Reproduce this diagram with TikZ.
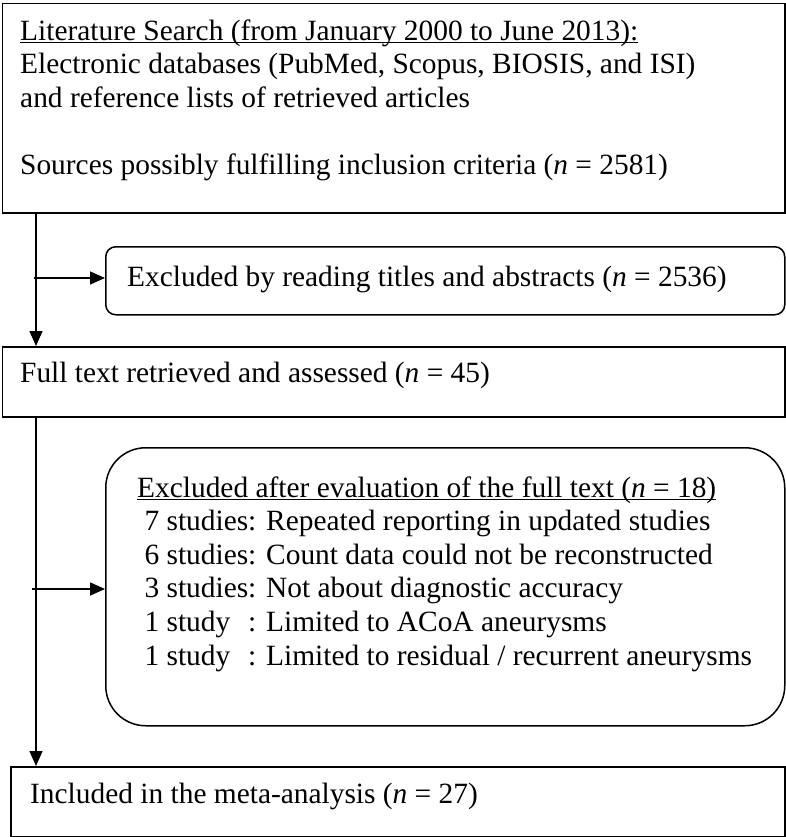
\documentclass[tikz,border=0pt]{standalone}
\usepackage{fontspec}
\setmainfont{Liberation Serif}
\usetikzlibrary{arrows.meta}
\newcommand\myul[1]{\setbox0\hbox{#1}\rlap{\rule[-3pt]{\wd0}{1.3pt}}\box0}
\newlength\stw
\newcommand\stlabel[1]{\makebox[\stw][l]{#1}}
\tikzset{
  box/.style={draw, line width=1.5pt, inner sep=0pt, anchor=north west},
  rbox/.style={box, rounded corners=#1},
  txt/.style={inner sep=0pt, anchor=base west, font=\fontsize{29.4}{33.5}\selectfont},
  arr/.style={line width=1.6pt, -{Triangle[length=15pt,width=13pt]}}
}
\begin{document}
\begin{tikzpicture}[x=1pt,y=-1pt]
\useasboundingbox (0,0) rectangle (786,837);
% boxes
\node[box, minimum width=782.5pt, minimum height=209pt] (search) at (1.5,3) {};
\node[rbox=10pt, minimum width=679pt, minimum height=68pt] (excl1) at (105,246) {};
\node[box, minimum width=782.5pt, minimum height=70pt] (full) at (1.5,346) {};
\node[rbox=40pt, minimum width=679pt, minimum height=278pt] (excl2) at (105,447) {};
\node[box, minimum width=774pt, minimum height=70pt] (incl) at (10,766) {};
% texts
\node[txt] (searchtxt) at (20,40.5) {\vtop{\baselineskip=33.5pt
  \hbox{\myul{Literature Search (from January 2000 to June 2013):}}
  \hbox{Electronic databases (PubMed, Scopus, BIOSIS, and ISI)}
  \hbox{and reference lists of retrieved articles}
  \hbox{}
  \hbox{Sources possibly fulfilling inclusion criteria (\textit{n} = 2581)}}};
\node[txt] (excl1txt) at (127,286) {Excluded by reading titles and abstracts (\textit{n} = 2536)};
\node[txt] (fulltxt) at (20,382) {Full text retrieved and assessed (\textit{n} = 45)};
\node[txt] (excl2txt) at (137,497) {\settowidth\stw{7 studies}\vtop{\baselineskip=33.6pt
  \hbox{\myul{Excluded after evaluation of the full text (\textit{n} = 18)}}
  \hbox{ 7 studies: Repeated reporting in updated studies}
  \hbox{ 6 studies: Count data could not be reconstructed}
  \hbox{ 3 studies: Not about diagnostic accuracy}
  \hbox{ \stlabel{1 study}: Limited to ACoA aneurysms}
  \hbox{ \stlabel{1 study}: Limited to residual / recurrent aneurysms}}};
\node[txt] (incltxt) at (30,803) {Included in the meta-analysis (\textit{n} = 27)};
% connectors
\coordinate (v) at (36,0);
\coordinate (j1) at (34,278);
\coordinate (j2) at (32,589);
\draw[arr] (search.south -| v) -- (full.north -| v);
\draw[arr] (j1) -- (j1 -| excl1.west);
\draw[arr] (full.south -| v) -- (incl.north -| v);
\draw[arr] (j2) -- (j2 -| excl2.west);
\end{tikzpicture}
\end{document}
